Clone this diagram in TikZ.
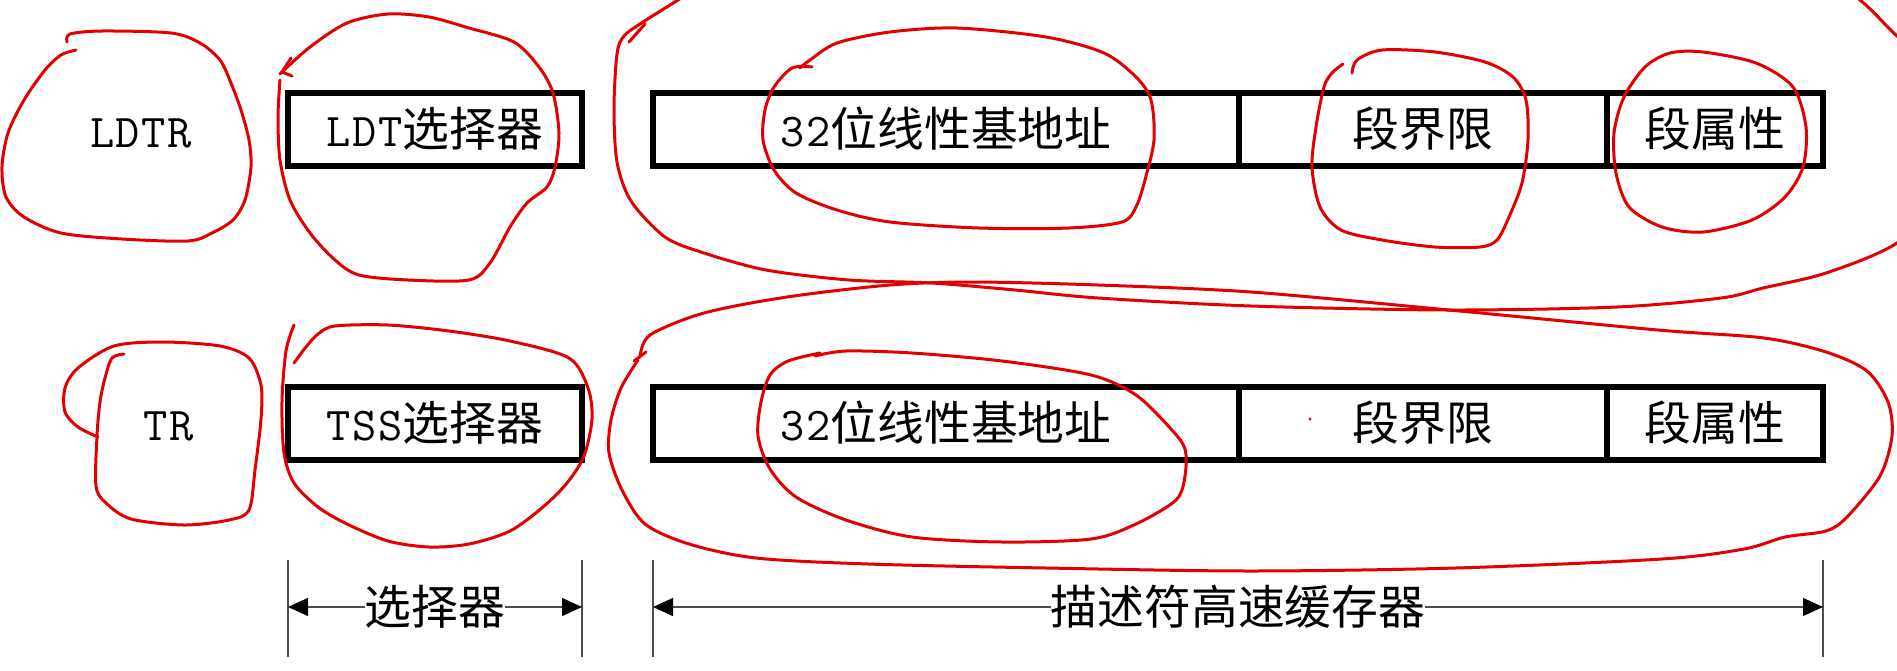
\documentclass[tikz,border=0pt]{standalone}
\usepackage{fontspec}
\setmainfont{Latin Modern Mono}[LetterSpace=3.5]
\newfontfamily\cjkfont{Noto Sans CJK SC}
\usetikzlibrary{arrows.meta}
\newlength\px \setlength\px{0.5pt}
\newcommand\zhtext[1]{{\cjkfont\fontsize{23.4pt}{28pt}\selectfont #1}}
\definecolor{pen}{RGB}{226,0,0}
\begin{document}
\begin{tikzpicture}[x=0.5pt,y=-0.5pt,
  cell/.style={draw=black, line width=3pt, minimum height=73\px, inner sep=0pt,
    text height=20pt, text depth=3.3pt, font=\fontsize{23.5pt}{28pt}\selectfont},
  plain/.style={inner sep=0pt, anchor=base, font=\fontsize{23.5pt}{28pt}\selectfont},
  dimlabel/.style={fill=white, inner sep=0pt},
  ext/.style={draw=black!70, line width=0.6pt},
  dimarrow/.style={draw=black!70, line width=0.6pt,
    {Triangle[length=10pt,width=9pt,color=black]}-{Triangle[length=10pt,width=9pt,color=black]}},
  redline/.style={draw=pen, line width=1.5pt, line cap=round, line join=round}]
\useasboundingbox (0,0) rectangle (1897,670);
\clip (0,0) rectangle (1897,670);
\fill[white] (0,0) rectangle (1897,670);

% register labels
\node[plain] (ldtr) at (141,147) {LDTR};
\node[plain] (tr) at (169,440) {TR};

% row 1
\node[cell, minimum width=294\px] (ldt) at (435,129.5) {LDT\zhtext{选择器}};
\node[cell, minimum width=586\px] (d1a) at (946,129.5) {32\zhtext{位线性基地址}};
\node[cell, minimum width=368\px] (d1b) at (1423,129.5) {\zhtext{段界限}};
\node[cell, minimum width=216\px] (d1c) at (1715,129.5) {\zhtext{段属性}};

% row 2
\node[cell, minimum width=294\px] (tss) at (435,423.5) {TSS\zhtext{选择器}};
\node[cell, minimum width=586\px] (d2a) at (946,423.5) {32\zhtext{位线性基地址}};
\node[cell, minimum width=368\px] (d2b) at (1423,423.5) {\zhtext{段界限}};
\node[cell, minimum width=216\px] (d2c) at (1715,423.5) {\zhtext{段属性}};

% dimension lines
\coordinate (e1t) at (288,560); \coordinate (e1b) at (288,657);
\coordinate (e2t) at (582,560); \coordinate (e2b) at (582,657);
\coordinate (e3t) at (653,560); \coordinate (e3b) at (653,657);
\coordinate (e4t) at (1823,560); \coordinate (e4b) at (1823,657);
\draw[ext] (e1t) -- (e1b);
\draw[ext] (e2t) -- (e2b);
\draw[ext] (e3t) -- (e3b);
\draw[ext] (e4t) -- (e4b);
\coordinate (s1) at (288,607); \coordinate (s2) at (582,607);
\coordinate (s3) at (653,607); \coordinate (s4) at (1823,607);
\draw[dimarrow] (s1) -- (s2);
\draw[dimarrow] (s3) -- (s4);
\node[dimlabel] (sel) at (435,607) {\zhtext{选择器}};
\node[dimlabel] (cache) at (1238,607) {\zhtext{描述符高速缓存器}};

% red hand-drawn annotations
% LDTR
\draw[redline] plot[smooth] coordinates {(67,42) (70,34) (102,31) (171,33) (200,43) (220,60) (231,83) (241,110) (249,140) (251,167) (245,200) (233,220) (212,233) (188,241) (122,239) (61,233) (24,217) (6,197) (2,167) (8,133) (24,100) (45,70) (61,55) (76,50)};
% LDT selector
\draw[redline] plot[smooth] coordinates {(280,74) (310,47) (347,23) (388,14) (429,17) (469,28) (514,42) (539,67) (553,93) (559,133) (555,167) (547,187) (527,203) (510,227) (490,263) (469,280) (408,280) (359,275) (335,260) (310,233) (290,200) (280,160) (278,117) (280,80)};
\draw[redline] (291,58) -- (282,72) -- (292,76);
% top descriptor base
\draw[redline] plot[smooth] coordinates {(812,67) (792,68) (774,87) (765,110) (763,140) (774,170) (796,193) (837,210) (890,222) (979,228) (1069,228) (1122,222) (1136,207) (1145,180) (1154,140) (1151,100) (1136,77) (1104,53) (1046,37) (957,28) (890,32) (837,43) (810,60) (800,68)};
% top limit
\draw[redline] plot[smooth] coordinates {(1352,73) (1357,60) (1382,50) (1435,52) (1485,62) (1513,77) (1526,100) (1528,140) (1522,183) (1509,217) (1497,240) (1480,247) (1435,247) (1382,240) (1341,230) (1320,207) (1312,167) (1316,127) (1324,87) (1332,73) (1343,64)};
% top attribute
\draw[redline] plot[smooth cycle] coordinates {(1670,53) (1703,52) (1756,63) (1793,87) (1806,127) (1803,167) (1785,197) (1752,220) (1703,232) (1662,227) (1629,207) (1616,173) (1614,133) (1624,97) (1645,67)};
% big top loop
\draw[redline] plot[smooth cycle] coordinates {(760,-60) (700,-15) (678,0) (643,22) (624,36) (617,54) (614,108) (617,162) (631,201) (665,237) (704,253) (766,270) (849,280) (932,283) (1015,290) (1098,298) (1251,306) (1449,310) (1617,307) (1721,298) (1763,288) (1826,273) (1897,243) (1950,190) (1965,110) (1930,60) (1897,36) (1860,0) (1800,-40) (1300,-80)};
\draw[redline] (629,42) -- (645,24);
% TR
\draw[redline] plot[smooth] coordinates {(124,354) (112,358) (105,378) (100,402) (97,436) (96,486) (106,503) (131,519) (184,525) (229,520) (249,510) (255,470) (261,419) (261,385) (249,358) (220,346) (163,342) (114,346) (78,368) (65,388) (65,412) (78,427) (98,437)};
% TSS selector
\draw[redline] plot[smooth] coordinates {(294,325) (286,351) (282,402) (284,453) (294,483) (318,507) (347,524) (388,541) (429,547) (469,544) (510,531) (543,507) (567,483) (584,456) (592,419) (588,388) (569,358) (510,341) (449,331) (388,325) (335,326) (318,334) (306,347) (294,363)};
% bottom descriptor base
\draw[redline] plot[smooth] coordinates {(820,353) (788,361) (770,375) (761,402) (758,436) (770,469) (796,497) (846,520) (912,537) (1002,542) (1091,539) (1136,524) (1176,500) (1185,476) (1185,449) (1171,429) (1136,395) (1091,375) (1002,361) (912,353) (846,351) (815,356)};
% big bottom loop
\draw[redline] plot[smooth] coordinates {(640,357) (650,335) (704,313) (787,297) (890,285) (973,282) (1098,285) (1251,292) (1449,310) (1658,330) (1764,338) (1826,352) (1867,371) (1888,402) (1892,436) (1880,476) (1847,517) (1826,531) (1785,537) (1744,549) (1662,559) (1456,568) (1250,571) (1046,568) (868,564) (756,558) (689,544) (645,524) (622,490) (609,453) (611,420) (621,388) (638,360)};
\draw[redline] (634,361) -- (646,352);
% stray dot
\fill[pen] (1310,419) circle (1.6);
\end{tikzpicture}
\end{document}
